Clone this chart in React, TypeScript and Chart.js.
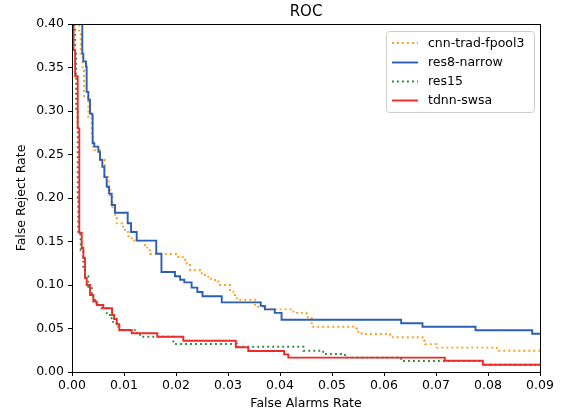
import React, { useEffect, useRef } from "react";
import { Chart, registerables } from "chart.js";

Chart.register(...registerables);

const chartTitle = "ROC";
const xAxisTitle = "False Alarms Rate";
const yAxisTitle = "False Reject Rate";
const xTicks = [0, 0.01, 0.02, 0.03, 0.04, 0.05, 0.06, 0.07, 0.08, 0.09];
const yTicks = [0, 0.05, 0.1, 0.15, 0.2, 0.25, 0.3, 0.35, 0.4];

const seriesNames = ["cnn-trad-fpool3", "res8-narrow", "res15", "tdnn-swsa"];

// cnn-trad-fpool3
const cnnX = [0, 0.0014, 0.00167, 0.00205, 0.0023, 0.00314, 0.0038, 0.0041, 0.0054, 0.0063, 0.007, 0.0073, 0.0078, 0.0083, 0.0086, 0.00956, 0.0102, 0.01083, 0.01148, 0.01404, 0.01448, 0.015, 0.02044, 0.02173, 0.02206, 0.02269, 0.02462, 0.02494, 0.02621, 0.0275, 0.02813, 0.03038, 0.03102, 0.03167, 0.0352, 0.0368, 0.04256, 0.0451, 0.0461, 0.0464, 0.0541, 0.0548, 0.0557, 0.0612, 0.0674, 0.0679, 0.0701, 0.0817, 0.09];
const cnnY = [1, 0.39, 0.366, 0.347, 0.316, 0.293, 0.27, 0.255, 0.244, 0.224, 0.213, 0.201, 0.186, 0.177, 0.171, 0.167, 0.161, 0.156, 0.151, 0.146, 0.14, 0.1356, 0.132, 0.129, 0.123, 0.117, 0.115, 0.1115, 0.107, 0.104, 0.1, 0.094, 0.0885, 0.083, 0.075, 0.072, 0.068, 0.063, 0.054, 0.052, 0.05, 0.0463, 0.0437, 0.04, 0.036, 0.032, 0.028, 0.0245, 0.0245];

// res8-narrow
const res8X = [0, 0.00198, 0.00218, 0.00269, 0.00282, 0.00314, 0.00346, 0.0039, 0.00397, 0.00429, 0.00506, 0.00538, 0.00583, 0.00622, 0.00667, 0.00712, 0.00763, 0.00827, 0.01071, 0.01135, 0.01244, 0.0162, 0.0172, 0.0198, 0.0208, 0.0216, 0.023, 0.0241, 0.0251, 0.0288, 0.0363, 0.0371, 0.039, 0.0403, 0.0633, 0.0674, 0.0776, 0.0885, 0.09];
const res8Y = [1, 0.366, 0.357, 0.351, 0.322, 0.313, 0.297, 0.295, 0.263, 0.259, 0.253, 0.244, 0.236, 0.224, 0.213, 0.205, 0.192, 0.183, 0.171, 0.161, 0.151, 0.136, 0.115, 0.11, 0.106, 0.103, 0.097, 0.092, 0.087, 0.08, 0.076, 0.072, 0.068, 0.06, 0.056, 0.052, 0.048, 0.044, 0.044];

// res15
const res15X = [0, 0.0004, 0.0006, 0.0008, 0.0011, 0.0012, 0.00167, 0.00218, 0.0025, 0.00314, 0.0038, 0.0044, 0.0054, 0.0067, 0.0073, 0.0079, 0.0089, 0.01244, 0.0131, 0.0195, 0.0317, 0.0445, 0.0483, 0.0525, 0.0633, 0.079, 0.09];
const res15Y = [1, 0.42, 0.37, 0.3, 0.2, 0.158, 0.14, 0.121, 0.11, 0.098, 0.0866, 0.079, 0.0732, 0.0674, 0.0617, 0.056, 0.048, 0.0452, 0.0406, 0.0322, 0.029, 0.0245, 0.0207, 0.0165, 0.0126, 0.0084, 0.0084];

// tdnn-swsa
const tdnnX = [0, 0.0001, 0.0003, 0.0006, 0.0011, 0.0014, 0.00187, 0.00218, 0.0025, 0.00283, 0.00346, 0.0041, 0.00475, 0.006, 0.0077, 0.0081, 0.0086, 0.0091, 0.01148, 0.0164, 0.0214, 0.0315, 0.0339, 0.0408, 0.0416, 0.0717, 0.079, 0.09];
const tdnnY = [1, 0.4, 0.37, 0.34, 0.28, 0.16, 0.1425, 0.131, 0.108, 0.1, 0.0885, 0.081, 0.077, 0.0732, 0.0655, 0.061, 0.055, 0.0483, 0.0445, 0.0406, 0.036, 0.0284, 0.0241, 0.0203, 0.0165, 0.013, 0.0084, 0.0084];

const colors = ["#ff9f1c", "#2b5fb3", "#2e8b45", "#ee2b2b"];
const LW = 1.9;
const dashes: number[][] = [[1.9, 3.1], [], [1.9, 3.1], []];

const toPts = (xs: number[], ys: number[]) => xs.map((x, i) => ({ x, y: ys[i] }));

const FONT = "'DejaVu Sans', sans-serif";

const decorPlugin = {
  id: "decor",
  afterDraw(chart: any) {
    const { ctx, chartArea } = chart;
    const { left, right, top, bottom } = chartArea;
    ctx.save();
    // frame
    ctx.strokeStyle = "#000";
    ctx.lineWidth = 1;
    ctx.setLineDash([]);
    ctx.strokeRect(Math.round(left) + 0.5, Math.round(top) + 0.5, Math.round(right - left), Math.round(bottom - top));
    // titles
    ctx.fillStyle = "#000";
    ctx.textAlign = "center";
    ctx.textBaseline = "middle";
    ctx.font = `15px ${FONT}`;
    ctx.fillText(chartTitle, (left + right) / 2, 12);
    ctx.font = `12.5px ${FONT}`;
    ctx.fillText(xAxisTitle, (left + right) / 2, 404);
    ctx.save();
    ctx.translate(22, (top + bottom) / 2);
    ctx.rotate(-Math.PI / 2);
    ctx.fillText(yAxisTitle, 0, 0);
    ctx.restore();
    // legend
    const bx = 386.5, by = 31.5, bw = 148, bh = 81, r = 3;
    ctx.beginPath();
    ctx.moveTo(bx + r, by);
    ctx.lineTo(bx + bw - r, by);
    ctx.arcTo(bx + bw, by, bx + bw, by + r, r);
    ctx.lineTo(bx + bw, by + bh - r);
    ctx.arcTo(bx + bw, by + bh, bx + bw - r, by + bh, r);
    ctx.lineTo(bx + r, by + bh);
    ctx.arcTo(bx, by + bh, bx, by + bh - r, r);
    ctx.lineTo(bx, by + r);
    ctx.arcTo(bx, by, bx + r, by, r);
    ctx.closePath();
    ctx.fillStyle = "rgba(255,255,255,0.8)";
    ctx.fill();
    ctx.strokeStyle = "#cccccc";
    ctx.lineWidth = 1;
    ctx.stroke();
    const rowY = [43, 62.5, 81.5, 100.5];
    ctx.textAlign = "left";
    ctx.textBaseline = "middle";
    ctx.font = `12.5px ${FONT}`;
    seriesNames.forEach((name, i) => {
      ctx.beginPath();
      ctx.strokeStyle = colors[i];
      ctx.lineWidth = LW;
      ctx.setLineDash(dashes[i]);
      ctx.moveTo(392, rowY[i]);
      ctx.lineTo(418, rowY[i]);
      ctx.stroke();
      ctx.setLineDash([]);
      ctx.fillStyle = "#000";
      ctx.fillText(name, 428, rowY[i] + 0.5);
    });
    ctx.restore();
  },
};

export default function App() {
  const ref = useRef<HTMLCanvasElement>(null);
  useEffect(() => {
    document.body.style.margin = "0";
    const xsList = [cnnX, res8X, res15X, tdnnX];
    const ysList = [cnnY, res8Y, res15Y, tdnnY];
    const orders = [3, 2, 1, 0];
    const chart = new Chart(ref.current as HTMLCanvasElement, {
      type: "line",
      data: {
        datasets: seriesNames.map((name, i) => ({
          label: name,
          data: toPts(xsList[i], ysList[i]),
          borderColor: colors[i],
          backgroundColor: colors[i],
          borderWidth: LW,
          borderDash: dashes[i],
          pointRadius: 0,
          stepped: "before" as const,
          fill: false,
          clip: 0,
          order: orders[i],
        })),
      },
      options: {
        animation: false,
        responsive: false,
        maintainAspectRatio: false,
        layout: { padding: { top: 24, right: 25, left: 0, bottom: 0 } },
        plugins: { legend: { display: false }, title: { display: false }, tooltip: { enabled: false } },
        scales: {
          x: {
            type: "linear",
            min: 0,
            max: 0.09,
            afterFit: (s: any) => { s.height = 42; },
            afterBuildTicks: (s: any) => { s.ticks = xTicks.map((v) => ({ value: v })); },
            ticks: {
              color: "#000",
              font: { family: FONT, size: 12.5 },
              padding: 2,
              maxRotation: 0,
              autoSkip: false,
              callback: (v: any) => Number(v).toFixed(2),
            },
            grid: { drawOnChartArea: false, drawTicks: true, tickLength: 4, color: "#000" },
            border: { display: false },
          },
          y: {
            type: "linear",
            min: 0,
            max: 0.4,
            afterFit: (s: any) => { s.width = 72; },
            afterBuildTicks: (s: any) => { s.ticks = yTicks.map((v) => ({ value: v })); },
            ticks: {
              color: "#000",
              font: { family: FONT, size: 12.5 },
              padding: 4,
              autoSkip: false,
              callback: (v: any) => Number(v).toFixed(2),
            },
            grid: { drawOnChartArea: false, drawTicks: true, tickLength: 4, color: "#000" },
            border: { display: false },
          },
        },
      },
      plugins: [decorPlugin],
    });
    return () => chart.destroy();
  }, []);
  return (
    <div style={{ width: 565, height: 414 }}>
      <canvas ref={ref} width={565} height={414} style={{ display: "block", width: 565, height: 414 }} />
    </div>
  );
}
